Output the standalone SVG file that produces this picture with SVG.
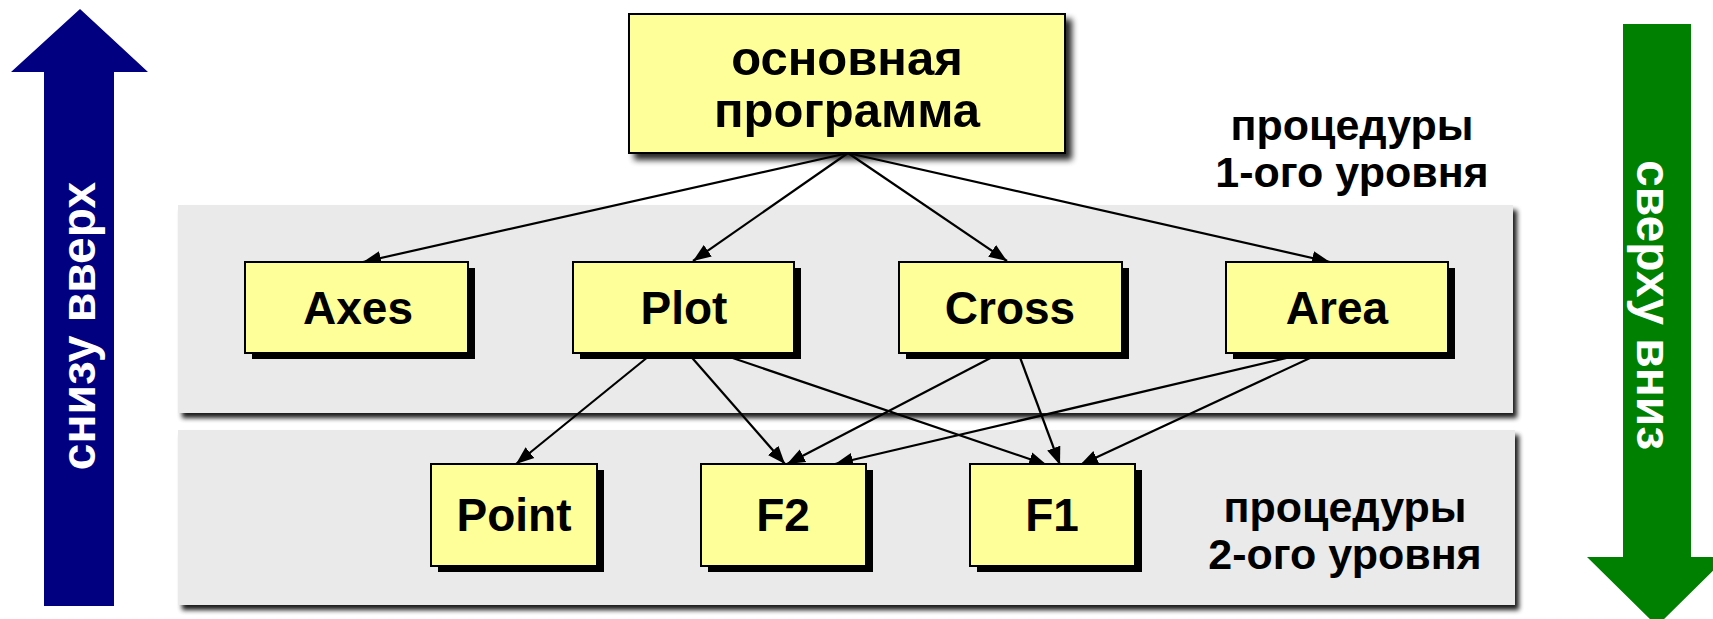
<svg xmlns="http://www.w3.org/2000/svg" width="1713" height="619" viewBox="0 0 1713 619">
<style>
text{font-family:"Liberation Sans",Arial,sans-serif;font-weight:bold;fill:#000}
.box{fill:#FFFF99;stroke:#000;stroke-width:2}
.hs{fill:#000}
.lbl{font-size:46px;text-anchor:middle}
.cap{font-size:43px;text-anchor:middle}
.conn line{stroke:#000;stroke-width:2.2;marker-end:url(#ah)}
.panel{fill:#EAEAEA}
.arrowtxt{font-size:48px;text-anchor:middle;fill:#fff}
</style>
<defs>
<marker id="ah" markerUnits="userSpaceOnUse" markerWidth="20" markerHeight="16" refX="18" refY="8" orient="auto">
<path d="M0,1 L18,8 L0,15 z" fill="#000"/>
</marker>
<filter id="psh" x="-5%" y="-10%" width="110%" height="130%">
<feGaussianBlur in="SourceAlpha" stdDeviation="2.5"/>
<feOffset dx="4" dy="5" result="b"/>
<feComponentTransfer><feFuncA type="linear" slope="0.9"/></feComponentTransfer>
<feMerge><feMergeNode/><feMergeNode in="SourceGraphic"/></feMerge>
</filter>
<filter id="msh" x="-10%" y="-10%" width="120%" height="130%">
<feGaussianBlur in="SourceAlpha" stdDeviation="3"/>
<feOffset dx="6" dy="6"/>
<feComponentTransfer><feFuncA type="linear" slope="0.85"/></feComponentTransfer>
<feMerge><feMergeNode/><feMergeNode in="SourceGraphic"/></feMerge>
</filter>
</defs>
<rect width="1713" height="619" fill="#fff"/>

<g id="arrow-up">
<polygon points="80,9 148,72 114,72 114,606 44,606 44,72 11,72" fill="#000080"/>
<text class="arrowtxt" transform="translate(95,326) rotate(-90)">снизу вверх</text>
</g>
<g id="arrow-down">
<polygon points="1623,24 1691,24 1691,557 1727,557 1657,626 1587,557 1623,557" fill="#008000"/>
<text class="arrowtxt" transform="translate(1637,305) rotate(90)">сверху вниз</text>
</g>

<g id="panel-level1"><rect class="panel" x="178" y="205" width="1335" height="208" filter="url(#psh)"/></g>
<g id="panel-level2"><rect class="panel" x="178" y="430" width="1337" height="175" filter="url(#psh)"/></g>

<g id="label-level1">
<text class="cap" x="1352" y="140">процедуры</text>
<text class="cap" x="1352" y="187">1-ого уровня</text>
</g>
<g id="label-level2">
<text class="cap" x="1345" y="522">процедуры</text>
<text class="cap" x="1345" y="569">2-ого уровня</text>
</g>

<g id="connectors" class="conn">
<line x1="848" y1="153" x2="363" y2="262"/>
<line x1="848" y1="153" x2="693" y2="261"/>
<line x1="848" y1="153" x2="1007" y2="261"/>
<line x1="848" y1="153" x2="1330" y2="262"/>
<line x1="654" y1="352" x2="516" y2="464"/>
<line x1="687" y1="352" x2="785" y2="464"/>
<line x1="715" y1="352" x2="1047" y2="465"/>
<line x1="1002" y1="352" x2="787" y2="464"/>
<line x1="1018" y1="352" x2="1060" y2="465"/>
<line x1="1312" y1="352" x2="835" y2="464"/>
<line x1="1323" y1="352" x2="1080" y2="465"/>
</g>

<g id="main">
<rect class="box" x="629" y="14" width="436" height="139" filter="url(#msh)"/>
<text x="847" y="75" font-size="49" text-anchor="middle">основная</text>
<text x="847" y="127" font-size="49" text-anchor="middle">программа</text>
</g>

<g id="axes">
<rect class="hs" x="252" y="268" width="223" height="91"/>
<rect class="box" x="245" y="262" width="223" height="91"/>
<text class="lbl" x="358" y="324">Axes</text>
</g>
<g id="plot">
<rect class="hs" x="580" y="268" width="221" height="91"/>
<rect class="box" x="573" y="262" width="221" height="91"/>
<text class="lbl" x="684" y="324">Plot</text>
</g>
<g id="cross">
<rect class="hs" x="906" y="268" width="223" height="91"/>
<rect class="box" x="899" y="262" width="223" height="91"/>
<text class="lbl" x="1010" y="324">Cross</text>
</g>
<g id="area">
<rect class="hs" x="1233" y="268" width="222" height="91"/>
<rect class="box" x="1226" y="262" width="222" height="91"/>
<text class="lbl" x="1337" y="324">Area</text>
</g>

<g id="point">
<rect class="hs" x="438" y="470" width="166" height="102"/>
<rect class="box" x="431" y="464" width="166" height="102"/>
<text class="lbl" x="514" y="531">Point</text>
</g>
<g id="f2">
<rect class="hs" x="708" y="470" width="165" height="102"/>
<rect class="box" x="701" y="464" width="165" height="102"/>
<text class="lbl" x="783" y="531">F2</text>
</g>
<g id="f1">
<rect class="hs" x="977" y="470" width="165" height="102"/>
<rect class="box" x="970" y="464" width="165" height="102"/>
<text class="lbl" x="1052" y="531">F1</text>
</g>
</svg>
